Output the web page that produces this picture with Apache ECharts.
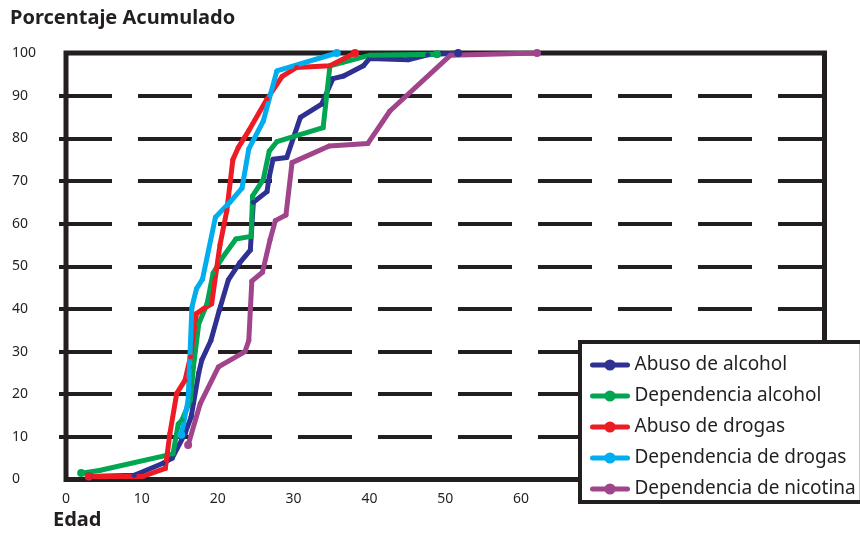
<!DOCTYPE html>
<html>
<head>
<meta charset="utf-8">
<title>Porcentaje Acumulado</title>
<script src="https://cdn.jsdelivr.net/npm/echarts/dist/echarts.min.js"></script>
<style>
  body { margin: 0; background: #fff; }
  #chart { width: 860px; height: 535px; }
</style>
</head>
<body>
<div id="chart"></div>
<script>
// [edad, porcentaje acumulado]
var abusoAlcohol = [[3,0.7],[9,1],[12.8,3.8],[14,5],[15.7,10.8],[16.5,14.7],[17.5,25],[17.9,28],[19.1,32.6],[20.2,39.6],[21.4,46.8],[22.9,50.8],[24.3,53.8],[24.7,65],[26.5,67.5],[26.8,71],[27.3,75.1],[29.1,75.5],[30.9,84.9],[33.7,88],[35.2,94],[36.6,94.6],[39.2,97],[40,98.7],[45.1,98.4],[47.7,99.6],[51.7,100]];
var dependenciaAlcohol = [[2,1.5],[4.4,2.1],[14.1,6],[14.8,13],[15.3,14],[16.4,18.6],[16.8,26.4],[17.5,36.5],[18.6,41.2],[19.4,48.4],[20.5,51.7],[22.4,56.4],[24.4,57],[24.6,66.5],[26,70.3],[26.8,77],[27.8,79.2],[33.9,82.5],[34.8,97],[40.1,99.5],[48.9,99.7]];
var abusoDrogas = [[3,0.7],[10.1,0.7],[13.1,2.6],[13.7,10.8],[14.6,20.2],[15.7,23.3],[16.4,28.7],[17.2,38.9],[18.1,40],[19.2,41.2],[20.3,55],[21.2,63],[22,75],[22.7,77.8],[24.1,81.8],[26.5,89.2],[28.5,94.5],[30.4,96.6],[34.8,97],[38.1,100]];
var dependenciaDrogas = [[15.2,10.5],[16.1,18.6],[16.6,40.4],[17.2,44.7],[18,47],[19.7,61.5],[21.6,65],[23.2,68.3],[24.1,77.5],[26,84],[27.8,95.8],[35.7,100]];
var dependenciaNicotina = [[16.1,8.1],[17.7,17.8],[20.1,26.4],[23.6,30],[24.1,32.6],[24.5,46.5],[25.9,48.6],[26.9,56.2],[27.6,60.7],[29,62],[29.8,74.3],[34.7,78.2],[39.8,78.8],[42.7,86.4],[50.7,99.5],[62.1,100]];

var nombres = ['Abuso de alcohol', 'Dependencia alcohol', 'Abuso de drogas', 'Dependencia de drogas', 'Dependencia de nicotina'];
var colores = ['#2e3192', '#00a651', '#ed1c24', '#00aeef', '#a0448c'];
var datos = [abusoAlcohol, dependenciaAlcohol, abusoDrogas, dependenciaDrogas, dependenciaNicotina];

var ink = '#231f20';
var fuente = '"Noto Sans", "Open Sans", sans-serif';

function makeSerie(i) {
  var n = datos[i].length;
  return {
    name: nombres[i],
    type: 'line',
    data: datos[i],
    symbol: 'circle',
    // only the ends get a visible dot, the rest sit inside the stroke
    symbolSize: function (val, params) {
      return (params.dataIndex === 0 || params.dataIndex === n - 1) ? 8 : 5;
    },
    lineStyle: { width: 5, color: colores[i], cap: 'round', join: 'round' },
    itemStyle: { color: colores[i] },
    emphasis: { disabled: true }
  };
}

var series = [];
for (var i = 0; i < datos.length; i++) {
  series.push(makeSerie(i));
}

var chart = echarts.init(document.getElementById('chart'));
chart.setOption({
  animation: false,
  textStyle: { fontFamily: fuente, color: ink },
  title: [
    { text: 'Porcentaje Acumulado', left: 10, top: 8, padding: 0,
      textStyle: { fontFamily: fuente, fontSize: 20, fontWeight: 'bold', color: ink } },
    { text: 'Edad', left: 53, top: 510, padding: 0,
      textStyle: { fontFamily: fuente, fontSize: 20, fontWeight: 'bold', color: ink } }
  ],
  grid: {
    left: 66, top: 53, right: 35.5, bottom: 55.5,
    show: true, borderWidth: 5, borderColor: ink
  },
  xAxis: {
    type: 'value', min: 0, max: 100, interval: 10,
    axisLine: { show: false },
    axisTick: { show: false },
    splitLine: { show: false },
    axisLabel: {
      margin: 13, fontSize: 14, color: ink, fontFamily: fuente,
      formatter: function (v) { return v <= 60 ? String(v) : ''; }
    }
  },
  yAxis: {
    type: 'value', min: 0, max: 100, interval: 10,
    axisLine: { show: false },
    axisTick: {
      show: true, length: 7, customValues: [10, 20, 30, 40, 50, 60, 70, 80, 90],
      lineStyle: { color: ink, width: 4 }
    },
    splitLine: {
      show: true,
      lineStyle: { color: ink, width: 4, type: [54, 26], dashOffset: 8 }
    },
    axisLabel: { margin: 54, align: 'left', fontSize: 14, color: ink, fontFamily: fuente }
  },
  legend: {
    orient: 'vertical',
    left: 580, top: 342,
    padding: [12, 6, 2, 10],
    itemWidth: 35, itemHeight: 14, itemGap: 9,
    backgroundColor: '#fff',
    borderColor: ink, borderWidth: 4,
    lineStyle: { width: 5 },
    itemStyle: { borderWidth: 0 },
    textStyle: { fontSize: 19, lineHeight: 22, color: ink, fontFamily: fuente, padding: [0, 0, 0, 2] },
    data: nombres
  },
  series: series
});
</script>
</body>
</html>
